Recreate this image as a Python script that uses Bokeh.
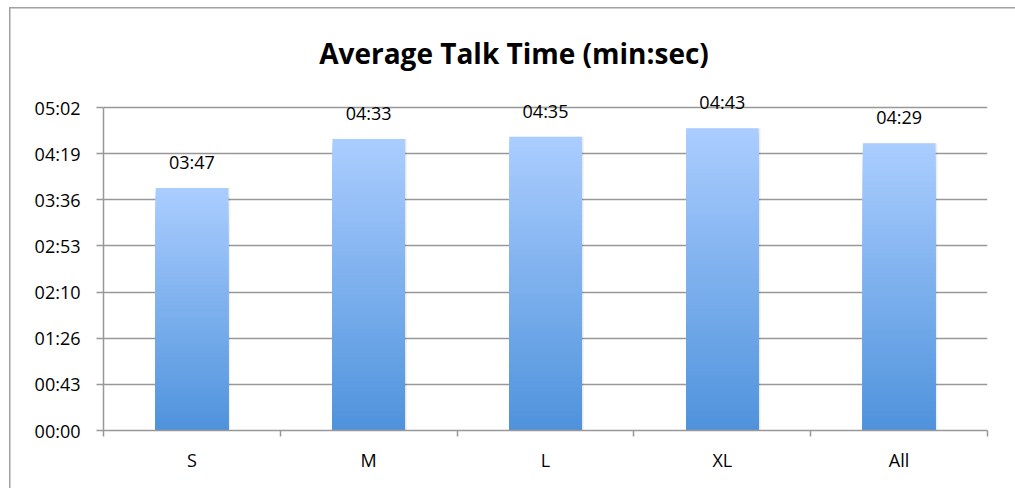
from bokeh.plotting import figure
from bokeh.models import (Range1d, FixedTicker, LinearAxis, ColumnDataSource,
                          LabelSet, Label, InlineStyleSheet)
from bokeh.core.properties import value
from bokeh.transform import dodge
from bokeh.embed import file_html
from bokeh.resources import INLINE

# ---- data ----
categories = ["S", "M", "L", "XL", "All"]
talk_seconds = [227, 273, 275, 283, 269]          # 03:47, 04:33, 04:35, 04:43, 04:29
y_ticks = [0, 43.2, 86.4, 129.6, 172.8, 216.0, 259.2, 302.4]
y_tick_labels = ["00:00", "00:43", "01:26", "02:10", "02:53", "03:36", "04:19", "05:02"]
title_text = "Average Talk Time (min:sec)"

FONT = "Open Sans"
GRID = "#989898"

# ---- layout constants (canvas pixels) ----
W, H = 1015, 488
LEFT, RIGHT, BOTTOM = 103, 28, 58
GRID_TOP_PX = 107                      # canvas y of the top gridline
frame_h = H - BOTTOM
y_end = y_ticks[-1] * frame_h / (frame_h - GRID_TOP_PX)

p = figure(width=W, height=H, output_backend="svg", toolbar_location=None,
           x_range=Range1d(0, len(categories)), y_range=Range1d(0, y_end),
           x_axis_location=None, y_axis_location=None,
           min_border_left=LEFT, min_border_right=RIGHT, min_border_top=0,
           min_border_bottom=BOTTOM)
p.outline_line_color = None
p.background_fill_color = None
p.border_fill_color = None
# chart-area frame: only its left and top edges fall inside the window
p.stylesheets = [InlineStyleSheet(css="""
:host {
  background-color: white;
  background-image: linear-gradient(#a0a0a0, #a0a0a0), linear-gradient(#a0a0a0, #a0a0a0);
  background-position: 9px 7px, 9px 7px;
  background-size: 1.5px 100%, 100% 1.5px;
  background-repeat: no-repeat, no-repeat;
}
""")]

centers = [i + 0.5 for i in range(len(categories))]

# ---- axes ----
yax = LinearAxis(ticker=FixedTicker(ticks=y_ticks, minor_ticks=[]),
                 bounds=(y_ticks[0], y_ticks[-1]))
yax.major_label_overrides = {t: l for t, l in zip(y_ticks, y_tick_labels)}
yax.axis_line_color = GRID
yax.axis_line_width = 1.5
yax.major_tick_line_color = GRID
yax.major_tick_line_width = 1.5
yax.major_tick_out = 7
yax.major_tick_in = 0
yax.major_label_standoff = 16
yax.major_label_text_font = FONT
yax.major_label_text_font_size = "18px"
yax.major_label_text_color = "black"
p.add_layout(yax, "left")

xax = LinearAxis(ticker=FixedTicker(ticks=centers, minor_ticks=list(range(len(categories) + 1))))
xax.major_label_overrides = {c: n for c, n in zip(centers, categories)}
xax.axis_line_color = GRID
xax.axis_line_width = 1.5
xax.major_tick_line_color = None
xax.major_tick_out = 0
xax.major_tick_in = 0
xax.minor_tick_line_color = GRID
xax.minor_tick_line_width = 1.5
xax.minor_tick_out = 6
xax.minor_tick_in = 0
xax.major_label_standoff = 11
xax.major_label_text_font = FONT
xax.major_label_text_font_size = "18px"
xax.major_label_text_color = "black"
p.add_layout(xax, "below")

p.xgrid.visible = False
p.ygrid.ticker = FixedTicker(ticks=y_ticks)
p.ygrid.grid_line_color = GRID
p.ygrid.grid_line_width = 1.5

# ---- soft shadow ----
src_bars = ColumnDataSource(dict(x=centers, top=talk_seconds))
p.vbar(x=dodge("x", 0.012), top="top", bottom=0, width=0.41, source=src_bars,
       fill_color="black", fill_alpha=0.05, line_color=None)
p.vbar(x=dodge("x", 0.006), top="top", bottom=0, width=0.41, source=src_bars,
       fill_color="black", fill_alpha=0.05, line_color=None)

# ---- gradient bars (stacked slices, tallest first) ----
top_rgb = (171, 205, 255)
bot_rgb = (79, 147, 220)
N = 60
xs, tops, cols = [], [], []
for k in range(N, 0, -1):
    t = (k - 0.5) / N
    r, g, b = (int(round(bot_rgb[j] + (top_rgb[j] - bot_rgb[j]) * t)) for j in range(3))
    for c, v in zip(centers, talk_seconds):
        xs.append(c)
        tops.append(v * k / N)
        cols.append("#%02x%02x%02x" % (r, g, b))
p.vbar(x=xs, top=tops, bottom=0, width=0.41, fill_color=cols, line_color=None)

# ---- data labels ----
lab_src = ColumnDataSource(dict(
    x=centers, y=talk_seconds,
    t=["%02d:%02d" % (v // 60, v % 60) for v in talk_seconds]))
p.add_layout(LabelSet(x="x", y="y", text="t", source=lab_src, y_offset=19,
                      text_align="center", text_baseline="alphabetic",
                      text_font=value(FONT), text_font_size=value("18px"),
                      text_color="black"))

# ---- title ----
p.add_layout(Label(x=410.5, y=378, x_units="screen", y_units="screen", text=title_text,
                   text_align="center", text_baseline="alphabetic",
                   text_font=FONT, text_font_size="28px", text_font_style="bold",
                   text_color="black"))

html = file_html(p, INLINE)
html = html.replace("</head>",
                    "<style>html, body { margin: 0; overflow: hidden; }</style></head>", 1)
open("out.html", "w").write(html)
